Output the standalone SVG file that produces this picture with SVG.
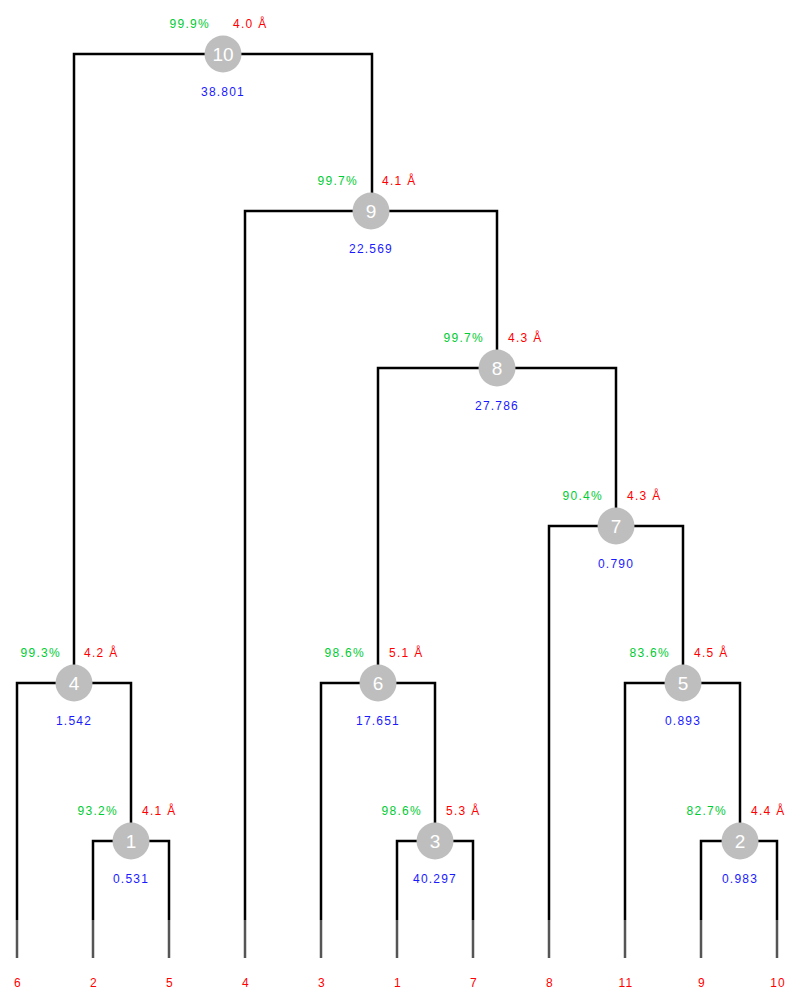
<svg xmlns="http://www.w3.org/2000/svg" width="800" height="1002" viewBox="0 0 800 1002">
<style>
.ln{fill:none;stroke:#000;stroke-width:2.5;stroke-linejoin:miter}
.lf{fill:none;stroke:#555;stroke-width:2.5}
.c{fill:#bebebe}
.n{font-family:"Liberation Sans",Arial,sans-serif;font-size:19px;fill:#fff;text-anchor:middle}
.g{font-family:"Liberation Sans",Arial,sans-serif;font-size:12px;letter-spacing:1.3px;fill:#00cc33;text-anchor:end}
.r{font-family:"Liberation Sans",Arial,sans-serif;font-size:12px;letter-spacing:1.3px;fill:#ff0000}
.b{font-family:"Liberation Sans",Arial,sans-serif;font-size:12px;letter-spacing:1.2px;fill:#1a1aff;text-anchor:middle}
.leaf{font-family:"Liberation Sans",Arial,sans-serif;font-size:12px;letter-spacing:1.2px;fill:#ff0000;text-anchor:middle}
</style>
<rect width="800" height="1002" fill="#fff"/>
<g id="connectors">
<path class="ln" d="M74 683V54H372V211"/>
<path class="ln" d="M245 920V211H497V368"/>
<path class="ln" d="M378 683V368H616V526"/>
<path class="ln" d="M549 920V526H683V683"/>
<path class="ln" d="M625 920V683H740V841"/>
<path class="ln" d="M701 920V841H777V920"/>
<path class="ln" d="M321 920V683H435V841"/>
<path class="ln" d="M397 920V841H473V920"/>
<path class="ln" d="M17 920V683H131V841"/>
<path class="ln" d="M93 920V841H169V920"/>
<path class="lf" d="M17 920V958M93 920V958M169 920V958M245 920V958M321 920V958M397 920V958M473 920V958M549 920V958M625 920V958M701 920V958M777 920V958"/>
</g>
<g id="node10"><circle class="c" cx="223" cy="54" r="18.5"/><text class="n" x="223" y="61">10</text><text class="g" x="210" y="28">99.9%</text><text class="r" x="233" y="28">4.0 Å</text><text class="b" x="223" y="96">38.801</text></g>
<g id="node9"><circle class="c" cx="371" cy="211" r="18.5"/><text class="n" x="371" y="218">9</text><text class="g" x="358" y="185">99.7%</text><text class="r" x="382" y="185">4.1 Å</text><text class="b" x="371" y="253">22.569</text></g>
<g id="node8"><circle class="c" cx="497" cy="368" r="18.5"/><text class="n" x="497" y="375">8</text><text class="g" x="484" y="342">99.7%</text><text class="r" x="508" y="342">4.3 Å</text><text class="b" x="497" y="410">27.786</text></g>
<g id="node7"><circle class="c" cx="616" cy="526" r="18.5"/><text class="n" x="616" y="533">7</text><text class="g" x="603" y="500">90.4%</text><text class="r" x="627" y="500">4.3 Å</text><text class="b" x="616" y="568">0.790</text></g>
<g id="node5"><circle class="c" cx="683" cy="683" r="18.5"/><text class="n" x="683" y="690">5</text><text class="g" x="670" y="657">83.6%</text><text class="r" x="694" y="657">4.5 Å</text><text class="b" x="683" y="725">0.893</text></g>
<g id="node2"><circle class="c" cx="740" cy="841" r="18.5"/><text class="n" x="740" y="848">2</text><text class="g" x="727" y="815">82.7%</text><text class="r" x="751" y="815">4.4 Å</text><text class="b" x="740" y="883">0.983</text></g>
<g id="node6"><circle class="c" cx="378" cy="683" r="18.5"/><text class="n" x="378" y="690">6</text><text class="g" x="365" y="657">98.6%</text><text class="r" x="389" y="657">5.1 Å</text><text class="b" x="378" y="725">17.651</text></g>
<g id="node3"><circle class="c" cx="435" cy="841" r="18.5"/><text class="n" x="435" y="848">3</text><text class="g" x="422" y="815">98.6%</text><text class="r" x="446" y="815">5.3 Å</text><text class="b" x="435" y="883">40.297</text></g>
<g id="node4"><circle class="c" cx="74" cy="683" r="18.5"/><text class="n" x="74" y="690">4</text><text class="g" x="61" y="657">99.3%</text><text class="r" x="84" y="657">4.2 Å</text><text class="b" x="74" y="725">1.542</text></g>
<g id="node1"><circle class="c" cx="131" cy="841" r="18.5"/><text class="n" x="131" y="848">1</text><text class="g" x="118" y="815">93.2%</text><text class="r" x="142" y="815">4.1 Å</text><text class="b" x="131" y="883">0.531</text></g>
<g id="leaves">
<text class="leaf" x="18" y="987">6</text>
<text class="leaf" x="94" y="987">2</text>
<text class="leaf" x="170" y="987">5</text>
<text class="leaf" x="246" y="987">4</text>
<text class="leaf" x="322" y="987">3</text>
<text class="leaf" x="398" y="987">1</text>
<text class="leaf" x="474" y="987">7</text>
<text class="leaf" x="550" y="987">8</text>
<text class="leaf" x="626" y="987">11</text>
<text class="leaf" x="702" y="987">9</text>
<text class="leaf" x="778" y="987">10</text>
</g>
</svg>
